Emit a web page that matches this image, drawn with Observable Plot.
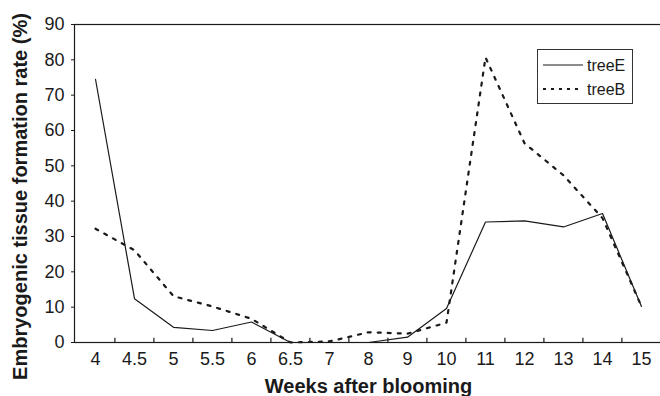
<!DOCTYPE html>
<html>
<head>
<meta charset="utf-8">
<script src="https://cdn.jsdelivr.net/npm/d3@7"></script>
<script src="https://cdn.jsdelivr.net/npm/@observablehq/plot@0.6"></script>
<style>
  html, body { margin: 0; padding: 0; background: #fff; }
  #wrap { position: relative; width: 660px; height: 396px; font-family: "Liberation Sans", Arial, sans-serif; }
  #legend { position: absolute; left: 537px; top: 49px; width: 94px; height: 53px; border: 1px solid #333; background: #fff; }
  #legend svg { display: block; }
</style>
</head>
<body>
<div id="wrap"></div>
<script>
// ---- data ----
const weeks = ["4", "4.5", "5", "5.5", "6", "6.5", "7", "8", "9", "10", "11", "12", "13", "14", "15"];
const treeE = [74.5, 12.4, 4.3, 3.4, 5.8, 0, 0, 0, 1.5, 9.6, 34.1, 34.4, 32.7, 36.5, 10.2];
const treeB = [32.2, 26.1, 13.1, 10.2, 6.7, 0, 0.3, 2.9, 2.5, 5.6, 80.7, 56.4, 47.3, 35.2, 10.2];
const yTicks = [0, 10, 20, 30, 40, 50, 60, 70, 80, 90];
const seriesNames = ["treeE", "treeB"];
const xTitle = "Weeks after blooming";
const yTitle = "Embryogenic tissue formation rate (%)";

const rowsE = weeks.map((w, i) => ({week: w, value: treeE[i]}));
const rowsB = weeks.map((w, i) => ({week: w, value: treeB[i]}));

const xRange = [74, 662];
const step = (xRange[1] - xRange[0]) / weeks.length;
const ink = "#1a1a1a";
const dotted = "3,7";

const chart = Plot.plot({
  width: 660,
  height: 396,
  marginLeft: 74,
  marginRight: -2,
  marginTop: 24,
  marginBottom: 54,
  style: {fontFamily: "'Liberation Sans', Arial, sans-serif", fontSize: "18px", color: ink, background: "#fff"},
  x: {type: "point", domain: weeks, range: xRange, padding: 0.5},
  y: {domain: [0, 90]},
  marks: [
    Plot.frame({stroke: ink, strokeWidth: 1.2}),
    Plot.axisY({ticks: yTicks, tickSize: 3, tickPadding: 7, label: null, fontSize: 18, stroke: ink}),
    Plot.axisX({tickSize: 0, tickPadding: 10, label: null, fontSize: 18}),
    Plot.ruleX(weeks.slice(1), {x: d => d, y1: 0, y2: 1.2, dx: -step / 2, stroke: ink, strokeWidth: 1.2}),
    Plot.line(rowsE, {x: "week", y: "value", stroke: ink, strokeWidth: 1.2}),
    Plot.line(rowsB, {x: "week", y: "value", stroke: ink, strokeWidth: 2.2, strokeDasharray: dotted}),
    Plot.text([yTitle], {frameAnchor: "left", rotate: -90, dx: -54, dy: 13, fontWeight: "bold", fontSize: 20, fill: ink, textAnchor: "middle", lineAnchor: "middle"}),
    Plot.text([xTitle], {frameAnchor: "bottom", dy: 44, fontWeight: "bold", fontSize: 20, fill: ink, lineAnchor: "middle"})
  ]
});

const wrap = document.getElementById("wrap");
wrap.appendChild(chart);

// legend (inside the plot area, top right)
const legend = document.createElement("div");
legend.id = "legend";
const styles = [
  {name: seriesNames[0], width: 1.2, dash: null},
  {name: seriesNames[1], width: 2.2, dash: "3,5"}
];
legend.innerHTML = `<svg width="94" height="53">${styles.map((s, i) => {
  const y = 15 + i * 24;
  return `<line x1="5" x2="45" y1="${y}" y2="${y}" stroke="${ink}" stroke-width="${s.width}" ${s.dash ? `stroke-dasharray="${s.dash}"` : ""}/>` +
         `<text x="49" y="${y}" dy="0.35em" font-size="16" fill="${ink}" font-family="'Liberation Sans', Arial, sans-serif">${s.name}</text>`;
}).join("")}</svg>`;
wrap.appendChild(legend);
</script>
</body>
</html>
